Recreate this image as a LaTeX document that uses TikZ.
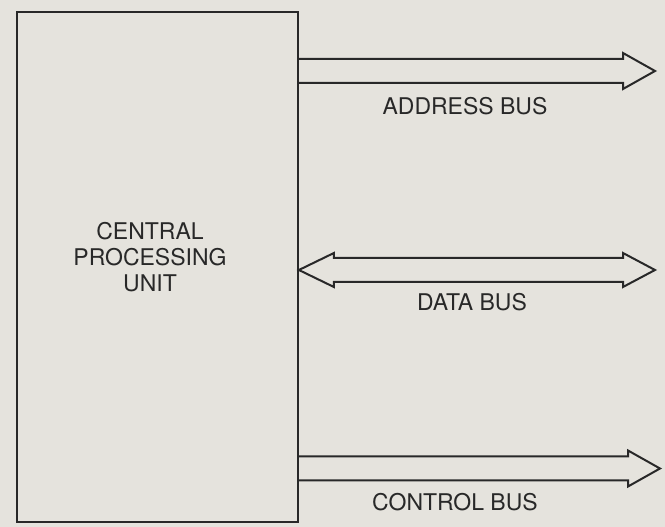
\documentclass[tikz,border=0pt]{standalone}
\usepackage{fontspec}
\setmainfont{TeX Gyre Heros}
\usepackage{xcolor}
\usepackage{tikz}
\usetikzlibrary{positioning}
\definecolor{paper}{RGB}{229,227,221}
\definecolor{ink}{RGB}{40,40,40}

\begin{document}
\begin{tikzpicture}[x=1pt, y=1pt,
        unit/.style={draw=ink, line width=1.8pt, minimum width=281pt, minimum height=510pt, inner sep=0pt},
        caption/.style={text=ink, align=center, inner sep=0pt, font=\fontsize{23}{26}\selectfont},
        bus/.style={draw=ink, line width=2pt, line join=miter}
    ]
        \fill[paper] (0,0) rectangle (665,527);
        \useasboundingbox (0,0) rectangle (665,527);

        \node[unit] (cpu) at (157.5,260) {};
        \node[caption] (cpuname) at (150,270) {CENTRAL\\PROCESSING\\UNIT};

        % tips of the buses
        \coordinate (addr) at (655,456);
        \coordinate (data) at (655,257);
        \coordinate (ctrl) at (660,58.5);
        \coordinate (addr start) at (cpu.east |- addr);
        \coordinate (data start) at (cpu.east |- data);
        \coordinate (ctrl start) at (cpu.east |- ctrl);

        \draw[bus] ([yshift=12pt]addr start) -- ([shift={(-32,12)}]addr) -- ++(0,6) -- (addr)
            -- ([shift={(-32,-18)}]addr) -- ++(0,6) -- ([yshift=-12pt]addr start);

        \draw[bus] (data start) -- ([shift={(35,17)}]data start) -- ++(0,-5) -- ([shift={(-32,12)}]data)
            -- ++(0,5) -- (data) -- ([shift={(-32,-17)}]data) -- ++(0,5)
            -- ([shift={(35,-12)}]data start) -- ++(0,-5) -- cycle;

        \draw[bus] ([yshift=12pt]ctrl start) -- ([shift={(-32,12)}]ctrl) -- ++(0,6) -- (ctrl)
            -- ([shift={(-32,-18)}]ctrl) -- ++(0,6) -- ([yshift=-12pt]ctrl start);

        \node[caption] (addrname) at (465,421) {ADDRESS BUS};
        \node[caption] (dataname) at (472,225) {DATA BUS};
        \node[caption] (ctrlname) at (455,25) {CONTROL BUS};
    \end{tikzpicture}
\end{document}
